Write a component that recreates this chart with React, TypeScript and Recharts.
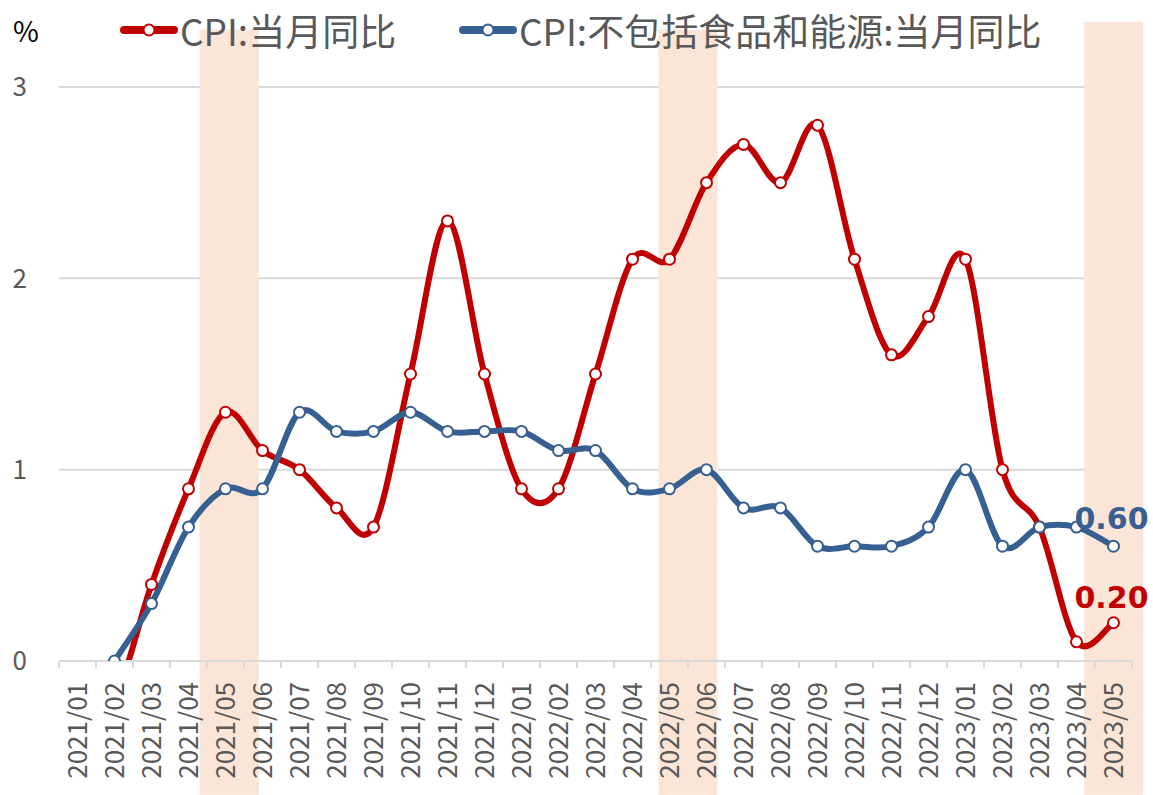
import React from "react";
import { LineChart, Line, XAxis, YAxis, CartesianGrid, Legend, ReferenceArea } from "recharts";

const months = [
  "2021/01", "2021/02", "2021/03", "2021/04", "2021/05", "2021/06", "2021/07", "2021/08", "2021/09", "2021/10", "2021/11", "2021/12",
  "2022/01", "2022/02", "2022/03", "2022/04", "2022/05", "2022/06", "2022/07", "2022/08", "2022/09", "2022/10", "2022/11", "2022/12",
  "2023/01", "2023/02", "2023/03", "2023/04", "2023/05",
];
const cpiYoy = [
  -0.3, -0.2, 0.4, 0.9, 1.3, 1.1, 1.0, 0.8, 0.7, 1.5, 2.3, 1.5,
  0.9, 0.9, 1.5, 2.1, 2.1, 2.5, 2.7, 2.5, 2.8, 2.1, 1.6, 1.8,
  2.1, 1.0, 0.7, 0.1, 0.2,
];
const coreYoy = [
  -0.3, 0.0, 0.3, 0.7, 0.9, 0.9, 1.3, 1.2, 1.2, 1.3, 1.2, 1.2,
  1.2, 1.1, 1.1, 0.9, 0.9, 1.0, 0.8, 0.8, 0.6, 0.6, 0.6, 0.7,
  1.0, 0.6, 0.7, 0.7, 0.6,
];
const yTicks = [0, 1, 2, 3];
const bandMonths = ["2021/05", "2022/05", "2023/05"];
const seriesNames = ["CPI:当月同比", "CPI:不包括食品和能源:当月同比"];

const data = months.map((m, i) => ({ month: m, cpi: cpiYoy[i], core: coreYoy[i] }));

const RED = "#C00000";
const BLUE = "#376092";
const BAND = "#FBE5D6";
const GRID = "#D9D9D9";
const TEXT = "#595959";
const FONT = '"Noto Sans CJK SC", "Noto Sans", sans-serif';
const BAND_SHIFT = [0.1, 0.5, 0];
const BAND_TOP = [3.3, 3.3, 3.34];
const TICK_SIZE = 7;
const TICK_MARGIN = 14;

// excel-ish smoothed line (catmull-rom as bezier)
const excelCurve = (ctx: any) => {
  let pts: number[][] = [];
  return {
    areaStart() {},
    areaEnd() {},
    lineStart() {
      pts = [];
    },
    point(x: number, y: number) {
      pts.push([+x, +y]);
    },
    lineEnd() {
      const n = pts.length;
      if (!n) return;
      ctx.moveTo(pts[0][0], pts[0][1]);
      for (let i = 0; i < n - 1; i++) {
        const p0 = pts[Math.max(i - 1, 0)];
        const p1 = pts[i];
        const p2 = pts[i + 1];
        const p3 = pts[Math.min(i + 2, n - 1)];
        ctx.bezierCurveTo(
          p1[0] + (p2[0] - p0[0]) / 6,
          p1[1] + (p2[1] - p0[1]) / 6,
          p2[0] - (p3[0] - p1[0]) / 6,
          p2[1] - (p3[1] - p1[1]) / 6,
          p2[0],
          p2[1]
        );
      }
    },
  };
};

const bandShape = (shift: number) => (p: any) => {
  const w = p.width * 1.6;
  const cx = p.x + p.width / 2 + shift * p.width;
  return <rect x={cx - w / 2} y={p.y} width={w} height={p.height} fill={BAND} />;
};

function MonthTick(props: any) {
  const { x, y, payload, index, visibleTicksCount } = props;
  const half = payload?.offset || 18.5;
  const axisY = y - TICK_SIZE - TICK_MARGIN;
  return (
    <g>
      <line x1={x - half} x2={x - half} y1={axisY} y2={axisY + TICK_SIZE} stroke={GRID} strokeWidth={2} />
      {index === visibleTicksCount - 1 && (
        <line x1={x + half} x2={x + half} y1={axisY} y2={axisY + TICK_SIZE} stroke={GRID} strokeWidth={2} />
      )}
      <text
        x={x}
        y={y}
        transform={`rotate(-90, ${x}, ${y})`}
        textAnchor="end"
        dy="0.35em"
        fill={TEXT}
        fontSize={26}
        fontFamily={FONT}
      >
        {payload.value}
      </text>
    </g>
  );
}

const lastLabel = (color: string, dyUp: number) => (p: any) => {
  if (p.index !== months.length - 1) return null;
  return (
    <text
      x={p.x - 2}
      y={p.y - dyUp}
      textAnchor="middle"
      fill={color}
      fontSize={30}
      fontWeight="bold"
      fontFamily='"DejaVu Sans", sans-serif'
    >
      {Number(p.value).toFixed(2)}
    </text>
  );
};

function LegendContent() {
  const items = [
    { name: seriesNames[0], color: RED, left: 120 },
    { name: seriesNames[1], color: BLUE, left: 459 },
  ];
  return (
    <div style={{ position: "relative", width: 1153, height: 64, fontFamily: FONT }}>
      <span style={{ position: "absolute", left: 13, top: 12, fontSize: 28, lineHeight: "36px", color: "#000" }}>%</span>
      {items.map((it) => (
        <div key={it.name} style={{ position: "absolute", left: it.left, top: -2, height: 64, display: "flex", alignItems: "center" }}>
          <svg width={58} height={16} style={{ marginRight: 2 }}>
            <line x1={4} x2={54} y1={8} y2={8} stroke={it.color} strokeWidth={8} strokeLinecap="round" />
            <circle cx={29} cy={8} r={5.5} fill="#fff" stroke={it.color} strokeWidth={2} />
          </svg>
          <span style={{ fontSize: 37, color: TEXT, lineHeight: "40px", whiteSpace: "nowrap" }}>{it.name}</span>
        </div>
      ))}
    </div>
  );
}

export default function App() {
  return (
    <div style={{ position: "absolute", left: 0, top: 0, background: "#fff" }}>
      <LineChart width={1153} height={795} data={data} margin={{ top: 23, right: 21, bottom: 0, left: 0 }} style={{ fontFamily: FONT }}>
        {bandMonths.map((m, i) => (
          <ReferenceArea key={m} x1={m} x2={m} y1={-0.7} y2={BAND_TOP[i]} ifOverflow="visible" shape={bandShape(BAND_SHIFT[i])} />
        ))}
        <CartesianGrid vertical={false} stroke={GRID} strokeWidth={2} />
        <XAxis
          dataKey="month"
          scale="band"
          height={134}
          interval={0}
          axisLine={{ stroke: GRID, strokeWidth: 2 }}
          tickLine={false}
          tickSize={TICK_SIZE}
          tickMargin={TICK_MARGIN}
          tick={<MonthTick />}
        />
        <YAxis
          width={59}
          domain={[0, 3]}
          ticks={yTicks}
          allowDataOverflow
          axisLine={false}
          tickLine={false}
          tickMargin={26}
          tick={{ fill: TEXT, fontSize: 26, fontFamily: FONT }}
        />
        <Legend verticalAlign="top" wrapperStyle={{ top: 0, left: 0, width: 1153, height: 64 }} content={<LegendContent />} />
        <Line
          dataKey="cpi"
          name={seriesNames[0]}
          type={excelCurve as any}
          stroke={RED}
          strokeWidth={6}
          dot={{ r: 5.5, fill: "#fff", stroke: RED, strokeWidth: 2 }}
          activeDot={false}
          label={lastLabel(RED, 15)}
          isAnimationActive={false}
        />
        <Line
          dataKey="core"
          name={seriesNames[1]}
          type={excelCurve as any}
          stroke={BLUE}
          strokeWidth={6}
          dot={{ r: 5.5, fill: "#fff", stroke: BLUE, strokeWidth: 2 }}
          activeDot={false}
          label={lastLabel(BLUE, 17)}
          isAnimationActive={false}
        />
      </LineChart>
    </div>
  );
}
